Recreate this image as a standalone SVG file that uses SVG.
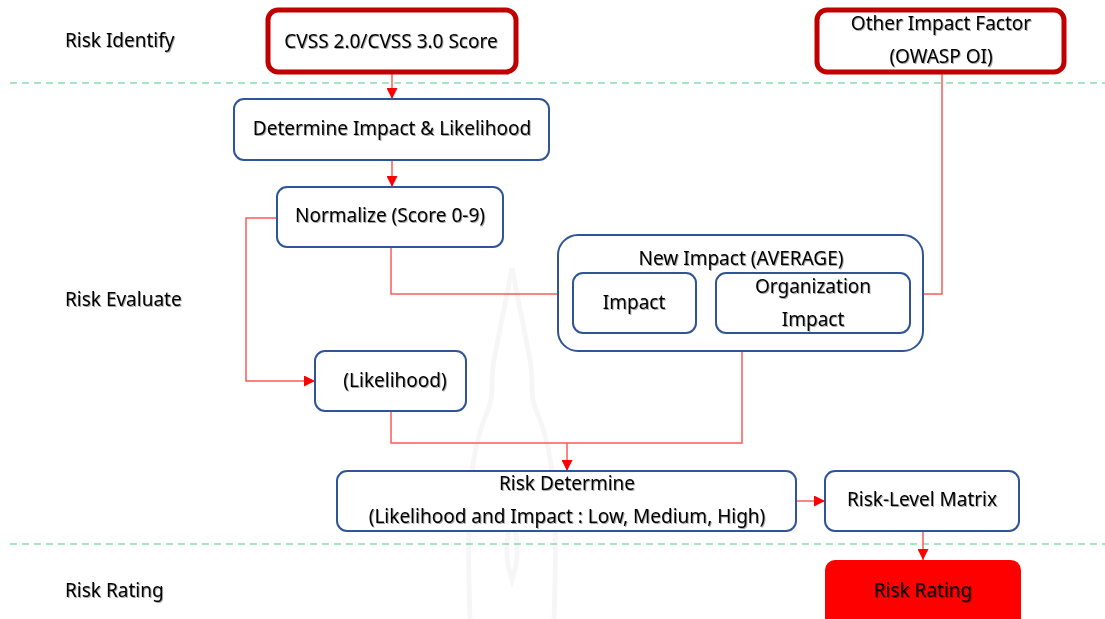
<svg xmlns="http://www.w3.org/2000/svg" width="1105" height="619" viewBox="0 0 1105 619">
  <defs>
    <filter id="shadow" x="-5%" y="-20%" width="110%" height="140%">
      <feDropShadow dx="1" dy="1" stdDeviation="0.6" flood-color="#000" flood-opacity="0.35"/>
    </filter>
    <marker id="arrow" viewBox="0 0 10 10" refX="10" refY="5" markerWidth="11" markerHeight="11" markerUnits="userSpaceOnUse" orient="auto">
      <path d="M0,0 L10,5 L0,10 Z" fill="#FF0000"/>
    </marker>
  </defs>
  <style>
    text { font-family: "Noto Sans", "DejaVu Sans", sans-serif; font-size: 19px; fill: #000; filter: url(#shadow); }
    .c { text-anchor: middle; }
    .box { fill: #fff; stroke: #2F5597; stroke-width: 2; }
    .src { fill: #fff; stroke: #C00000; stroke-width: 5; }
    .lane { stroke: #4CCB84; stroke-width: 1.2; stroke-dasharray: 7 5; fill: none; }
    .link { stroke: #FF5A5A; stroke-width: 1.5; fill: none; }
    .mark { fill: none; stroke: #000; stroke-opacity: 0.035; stroke-width: 5; }
  </style>

  <rect width="1105" height="619" fill="#fff"/>

  <!-- faint spire emblem in the background -->
  <g id="emblem">
    <path class="mark" d="M512,268 C506,300 500,330 494,360 C490,380 495,395 488,410 C470,450 466,500 470,619 M512,268 C518,300 524,330 530,360 C534,380 529,395 536,410 C554,450 558,500 554,619"/>
    <path class="mark" d="M512,520 C505,540 505,560 512,580 C519,560 519,540 512,520 Z"/>
  </g>

  <!-- lane separators -->
  <g id="lanes">
    <line class="lane" x1="10" y1="83" x2="1105" y2="83"/>
    <line class="lane" x1="10" y1="544" x2="1105" y2="544"/>
    <text x="65" y="47">Risk Identify</text>
    <text x="65" y="306">Risk Evaluate</text>
    <text x="65" y="597">Risk Rating</text>
  </g>

  <!-- connectors -->
  <g id="connectors">
    <line class="link" x1="392" y1="74" x2="392" y2="99" marker-end="url(#arrow)"/>
    <line class="link" x1="392" y1="160" x2="392" y2="187" marker-end="url(#arrow)"/>
    <polyline class="link" points="277,218 246,218 246,381 315,381" marker-end="url(#arrow)"/>
    <polyline class="link" points="391,247 391,294 558,294"/>
    <polyline class="link" points="942,74 942,294 923,294"/>
    <polyline class="link" points="391,411 391,443 742,443 742,351"/>
    <line class="link" x1="567" y1="443" x2="567" y2="471" marker-end="url(#arrow)"/>
    <line class="link" x1="796" y1="501" x2="825" y2="501" marker-end="url(#arrow)"/>
    <line class="link" x1="923" y1="531" x2="923" y2="560" marker-end="url(#arrow)"/>
  </g>

  <g id="cvss">
    <rect class="src" x="268" y="10" width="248" height="62" rx="10"/>
    <text class="c" x="391" y="48">CVSS 2.0/CVSS 3.0 Score</text>
  </g>

  <g id="other-impact">
    <rect class="src" x="817" y="10" width="247" height="62" rx="10"/>
    <text class="c" x="941" y="30">Other Impact Factor</text>
    <text class="c" x="941" y="63">(OWASP OI)</text>
  </g>

  <g id="determine">
    <rect class="box" x="234" y="99" width="315" height="61" rx="10"/>
    <text class="c" x="392" y="135">Determine Impact &amp; Likelihood</text>
  </g>

  <g id="normalize">
    <rect class="box" x="277" y="187" width="226" height="60" rx="10"/>
    <text class="c" x="390" y="222">Normalize (Score 0-9)</text>
  </g>

  <g id="new-impact">
    <rect class="box" x="558" y="235" width="365" height="116" rx="20"/>
    <text class="c" x="741" y="265">New Impact (AVERAGE)</text>
  </g>

  <g id="impact">
    <rect class="box" x="573" y="273" width="123" height="60" rx="10"/>
    <text class="c" x="634" y="309">Impact</text>
  </g>

  <g id="org-impact">
    <rect class="box" x="716" y="273" width="194" height="60" rx="10"/>
    <text class="c" x="813" y="293">Organization</text>
    <text class="c" x="813" y="326">Impact</text>
  </g>

  <g id="likelihood">
    <rect class="box" x="315" y="351" width="151" height="60" rx="10"/>
    <text class="c" x="395" y="387">(Likelihood)</text>
  </g>

  <g id="risk-determine">
    <rect class="box" x="337" y="471" width="459" height="60" rx="10"/>
    <text class="c" x="567" y="490">Risk Determine</text>
    <text class="c" x="567" y="523">(Likelihood and Impact : Low, Medium, High)</text>
  </g>

  <g id="risk-matrix">
    <rect class="box" x="825" y="471" width="194" height="60" rx="10"/>
    <text class="c" x="922" y="506">Risk-Level Matrix</text>
  </g>

  <g id="risk-rating">
    <rect x="825" y="560" width="196" height="70" rx="10" fill="#FF0000"/>
    <text class="c" x="923" y="597">Risk Rating</text>
  </g>
</svg>
